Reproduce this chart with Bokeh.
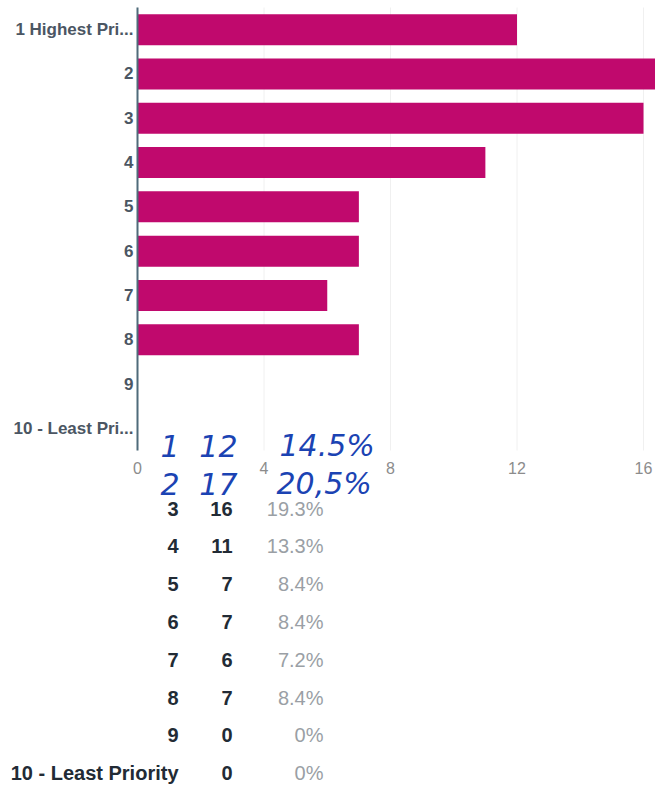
from bokeh.plotting import figure
from bokeh.models import (ColumnDataSource, Range1d, FixedTicker)
from bokeh.core.properties import value
from bokeh.embed import file_html
from bokeh.resources import INLINE

# ---------------- data ----------------
categories = ["1 Highest Pri...", "2", "3", "4", "5", "6", "7", "8", "9",
              "10 - Least Pri..."]
responses = [12, 17, 16, 11, 7, 7, 6, 7, 0, 0]
x_ticks = [0, 4, 8, 12, 16]

table_labels = ["3", "4", "5", "6", "7", "8", "9", "10 - Least Priority"]
table_counts = ["16", "11", "7", "7", "6", "7", "0", "0"]
table_pcts = ["19.3%", "13.3%", "8.4%", "8.4%", "7.2%", "8.4%", "0%", "0%"]

hand_labels = ["1", "2"]
hand_counts = ["12", "17"]
hand_pcts = ["14.5%", "20,5%"]

# ---------------- styles ----------------
BAR = "#c0096d"
AXIS = "#4f6b7a"
LABEL_DARK = "#222b35"
GREY = "#9a9fa5"
INK = "#1b43b3"
FONT = "Liberation Sans"

W, H = 655, 784
n_cat = len(categories)
ypos = [i + 0.5 for i in range(n_cat)]

# layout: x units -> 31.625 px each, 0 at 137px; chart rows 44.3px, top at 7px
PX_X, X0 = 31.625, 137
ROW, TOP = 44.3, 7
x_range = Range1d(start=-X0 / PX_X, end=(W - X0) / PX_X)
y_range = Range1d(start=(H - TOP) / ROW, end=-TOP / ROW)

p = figure(width=W, height=H, output_backend="svg", toolbar_location=None,
           x_range=x_range, y_range=y_range,
           min_border_left=0, min_border_right=0, min_border_top=0,
           min_border_bottom=0)
p.outline_line_color = None
p.background_fill_color = "white"
p.border_fill_color = "white"
p.xgrid.grid_line_color = None
p.ygrid.grid_line_color = None

# faint vertical gridlines over the chart area only
p.segment(x0=x_ticks, x1=x_ticks, y0=[0] * len(x_ticks),
          y1=[n_cat] * len(x_ticks), line_color="#f0f0f0", line_width=1)

p.hbar(y=ypos, right=responses, left=0, height=0.7,
       fill_color=BAR, line_color=None)

# x axis, pinned to the bottom of the chart rows
xa = p.xaxis[0]
xa.fixed_location = n_cat
xa.ticker = FixedTicker(ticks=x_ticks, minor_ticks=[])
xa.axis_line_color = None
xa.major_tick_line_color = None
xa.minor_tick_line_color = None
xa.major_tick_out = 0
xa.major_label_standoff = 11
xa.major_label_text_color = "#8c8c8c"
xa.major_label_text_font = FONT
xa.major_label_text_font_size = "16px"

# y axis (category labels), pinned at x = 0
ya = p.yaxis[0]
ya.fixed_location = 0
ya.bounds = (0, n_cat)
ya.ticker = FixedTicker(ticks=ypos, minor_ticks=[])
ya.major_label_overrides = {y: c for y, c in zip(ypos, categories)}
ya.axis_line_color = AXIS
ya.axis_line_width = 2
ya.major_tick_line_color = None
ya.minor_tick_line_color = None
ya.major_tick_out = 0
ya.minor_tick_out = 0
ya.major_label_standoff = 4
ya.major_label_text_color = "#4b5663"
ya.major_label_text_font = FONT
ya.major_label_text_font_size = "17px"
ya.major_label_text_font_style = "bold"

# ---------------- summary table below the chart ----------------
T_PITCH, T_ROW3 = 37.8, 508
p.extra_x_ranges["tx"] = Range1d(start=0, end=W)
p.extra_y_ranges["ty"] = Range1d(start=3 + (H - T_ROW3) / T_PITCH,
                                 end=3 - T_ROW3 / T_PITCH)

rows = [i + 3 for i in range(len(table_labels))]
COL_LABEL, COL_COUNT, COL_PCT = 178, 232, 323


def add_col(texts, xs, ys, align, color, style, size, font=FONT, yoff=0):
    src = ColumnDataSource(dict(x=xs, y=ys, text=texts))
    p.text(x="x", y="y", text="text", source=src,
           x_range_name="tx", y_range_name="ty",
           text_align=align, text_baseline="middle",
           text_color=color, text_font=value(font),
           text_font_size=value(size), text_font_style=style,
           y_offset=yoff)


n = len(rows)
add_col(table_labels, [COL_LABEL] * n, rows, "right", LABEL_DARK, "bold", "20px")
add_col(table_counts, [COL_COUNT] * n, rows, "right", LABEL_DARK, "bold", "20px")
add_col(table_pcts, [COL_PCT] * n, rows, "right", GREY, "normal", "20px")

hrows = [1, 2]
add_col(hand_labels, [179, 179], hrows, "right", INK, "italic", "30px",
        font="DejaVu Sans", yoff=13)
add_col(hand_counts, [237, 237], hrows, "right", INK, "italic", "30px",
        font="DejaVu Sans", yoff=13)
add_col(hand_pcts, [279, 276], hrows, "left", INK, "italic", "30px",
        font="DejaVu Sans", yoff=13)

open("out.html", "w").write(file_html(p, INLINE))
